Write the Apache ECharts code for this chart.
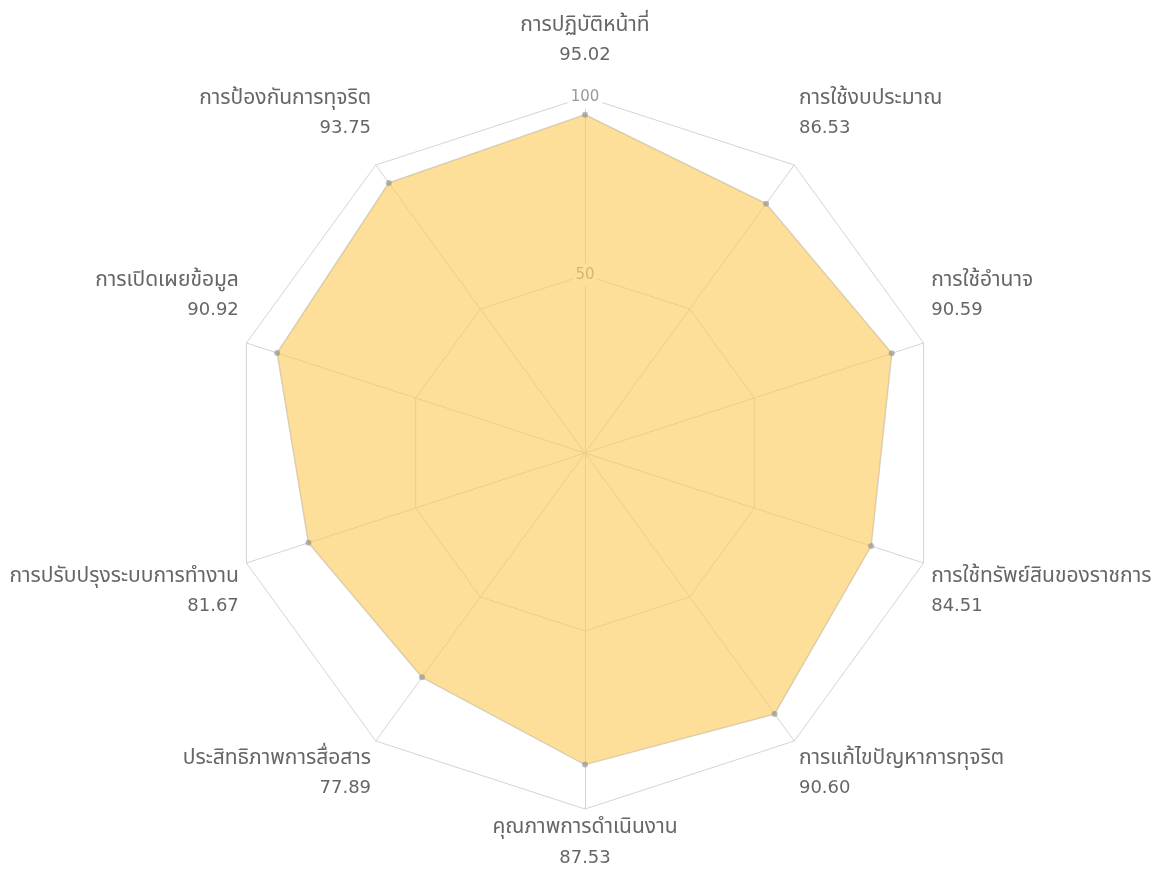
<!DOCTYPE html>
<html>
<head>
<meta charset="utf-8">
<script src="https://cdn.jsdelivr.net/npm/echarts@6/dist/echarts.min.js"></script>
<style>
  html, body { margin: 0; padding: 0; background: #fff; }
  #chart { width: 1163px; height: 869px; }
</style>
</head>
<body>
<div id="chart"></div>
<script>
  // indicators in counter-clockwise order starting from the top
  const categories = [
    'การปฏิบัติหน้าที่',
    'การป้องกันการทุจริต',
    'การเปิดเผยข้อมูล',
    'การปรับปรุงระบบการทำงาน',
    'ประสิทธิภาพการสื่อสาร',
    'คุณภาพการดำเนินงาน',
    'การแก้ไขปัญหาการทุจริต',
    'การใช้ทรัพย์สินของราชการ',
    'การใช้อำนาจ',
    'การใช้งบประมาณ'
  ]
  const scores = [95.02, 93.75, 90.92, 81.67, 77.89, 87.53, 90.60, 84.51, 90.59, 86.53]
  const maxScore = 100

  const fontFamily = '"DejaVu Sans", "Noto Sans Thai", "Noto Sans", sans-serif'

  // names above the centre sit on top of their point, names below hang under it
  function indicatorOf(name, i) {
    const angle = Math.PI / 2 + i * 2 * Math.PI / categories.length
    const upper = Math.sin(angle) > 0.01
    const lower = Math.sin(angle) < -0.01
    const ind = { name: name, max: maxScore, min: 0 }
    if (upper) {
      ind.nameTextStyle = { verticalAlign: 'bottom', padding: [0, 0, i === 0 ? 15 : 15, 0] }
    } else if (lower) {
      ind.nameTextStyle = { verticalAlign: 'top', padding: [-4, 0, 0, 0] }
    }
    if (i === 0) {
      ind.axisLabel = {
        show: true,
        showMinLabel: false,
        align: 'center',
        verticalAlign: 'middle',
        margin: 0,
        color: '#999',
        fontSize: 15,
        fontFamily: fontFamily,
        backgroundColor: '#fff',
        padding: [0, 3, 8, 3]
      }
    } else {
      ind.axisLabel = { show: false }
    }
    return ind
  }

  const chart = echarts.init(document.getElementById('chart'))

  chart.setOption({
    textStyle: { fontFamily: fontFamily },
    radar: {
      center: [585, 453],
      radius: 356,
      startAngle: 90,
      splitNumber: 2,
      indicator: categories.map(indicatorOf),
      axisName: {
        color: '#666',
        fontSize: 18,
        lineHeight: 30,
        fontFamily: fontFamily,
        formatter: function (name) {
          const i = categories.indexOf(name)
          return '{n|' + name + '}\n{v|' + scores[i].toFixed(2) + '}'
        },
        rich: {
          n: { fontSize: 21, lineHeight: 30, color: '#666', fontFamily: fontFamily },
          v: { fontSize: 18, lineHeight: 30, color: '#666', fontFamily: fontFamily }
        }
      },
      nameGap: 8,
      splitArea: { show: false },
      splitLine: { lineStyle: { color: '#d4d4d4', width: 1 } },
      axisLine: { lineStyle: { color: '#d4d4d4', width: 1 } },
      axisLabel: { show: false }
    },
    series: [{
      type: 'radar',
      symbol: 'circle',
      symbolSize: 6,
      itemStyle: { color: 'rgba(140,140,140,0.6)' },
      lineStyle: { color: 'rgba(150,150,150,0.45)', width: 1.5 },
      areaStyle: { color: '#FBC955', opacity: 0.6 },
      data: [{ value: scores, name: 'score' }]
    }]
  })
</script>
</body>
</html>
